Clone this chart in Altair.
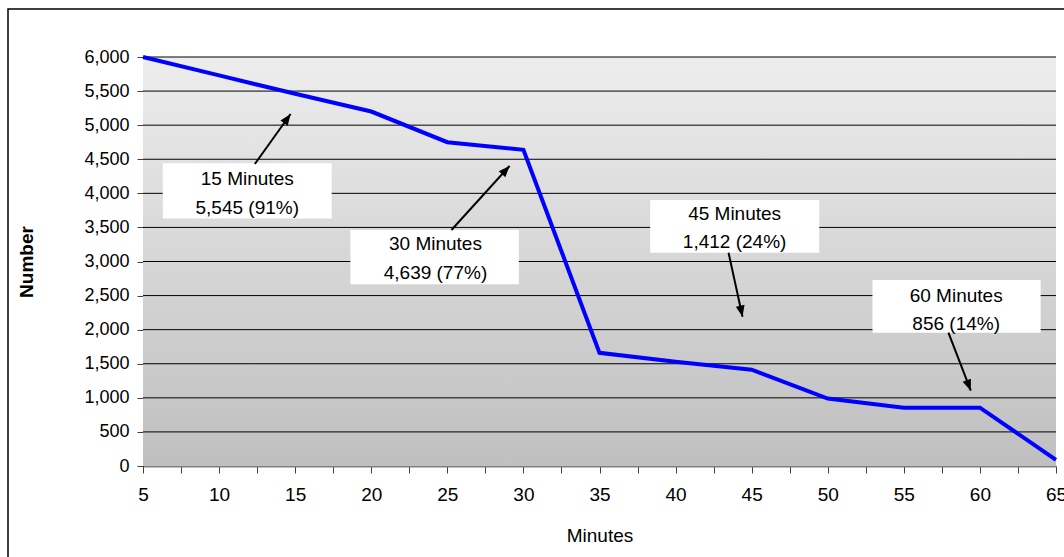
import math
import altair as alt
import pandas as pd

# ---- data ----
minutes = [5, 10, 15, 20, 25, 30, 35, 40, 45, 50, 55, 60, 65]
number = [6000, 5730, 5460, 5200, 4750, 4639, 1660, 1530, 1412, 990, 856, 856, 90]

y_ticks = list(range(0, 6001, 500))
grid_vals = list(range(500, 6001, 500))
x_ticks = [5 + 2.5 * i for i in range(25)]

ann_line1 = ["15 Minutes", "30 Minutes", "45 Minutes", "60 Minutes"]
ann_line2 = ["5,545 (91%)", "4,639 (77%)", "1,412 (24%)", "856 (14%)"]
box_x = [6.3, 18.63, 38.33, 52.94]
box_x2 = [17.4, 29.7, 49.44, 63.99]
box_y = [3630, 2666, 3129, 1955]
box_y2 = [4440, 3462, 3902, 2729]
text_x = [11.85, 24.22, 43.88, 58.44]
text_y1 = [4213, 3261, 3694, 2497]
text_y2 = [3780, 2827, 3279, 2088]
tail_x = [12.35, 25.27, 43.48, 57.93]
tail_y = [4430, 3462, 3129, 1955]
head_x = [14.70, 29.09, 44.40, 59.40]
head_y = [5164, 4401, 2190, 1105]

W, H = 913, 409
XMIN, XMAX, YMIN, YMAX = 5, 65, 0, 6000
FONT = "Liberation Sans"

# arrowhead rotation (screen space)
angles = []
for tx, ty, hx, hy in zip(tail_x, tail_y, head_x, head_y):
    dx = (hx - tx) * W / (XMAX - XMIN)
    dy = -(hy - ty) * H / (YMAX - YMIN)
    a = math.degrees(math.atan2(dx, -dy)) % 360
    angles.append(a)

line_df = pd.DataFrame({"Minutes": minutes, "Number": number})
grid_df = pd.DataFrame({"v": grid_vals})
ann_df = pd.DataFrame({
    "bx": box_x, "bx2": box_x2, "by": box_y, "by2": box_y2,
    "tx": text_x, "ty1": text_y1, "ty2": text_y2,
    "l1": ann_line1, "l2": ann_line2,
    "ax": tail_x, "ay": tail_y, "hx": head_x, "hy": head_y, "ang": angles,
})
one = pd.DataFrame({"d": [0]})

xs = alt.Scale(domain=[XMIN, XMAX], nice=False, zero=False)
ys = alt.Scale(domain=[YMIN, YMAX], nice=False)

AX = alt.Axis(values=x_ticks, labelExpr="datum.value % 5 === 0 ? datum.label : ''",
              title="Minutes", grid=False, domainColor="#808080", domainWidth=2,
              tickColor="#404040", tickSize=7, tickWidth=1,
              labelOverlap=False, labelFlush=False,
              labelFontSize=19, labelPadding=12, labelFont=FONT, labelColor="black",
              titleFont=FONT, titleFontSize=19, titleFontWeight="normal",
              titleColor="black", titleY=69, titleBaseline="middle")
AY = alt.Axis(values=y_ticks, format=",d", title="Number", grid=False,
              labelOverlap=False, labelFlush=False,
              domainColor="black", domainWidth=1, tickColor="#404040",
              tickSize=6, labelFontSize=18, labelPadding=8, labelFont=FONT,
              labelColor="black", titleFont=FONT, titleFontSize=19,
              titleFontWeight="bold", titleColor="black", titleX=-117,
              titleY=H / 2, titleBaseline="middle", titleAngle=270)


def X(f):
    return alt.X(f, scale=xs, axis=AX)


def Y(f):
    return alt.Y(f, scale=ys, axis=AY)


bg = alt.Chart(one).mark_rect(
    color=alt.Gradient(
        gradient="linear",
        stops=[alt.GradientStop(color="#ededed", offset=0),
               alt.GradientStop(color="#bfbfbf", offset=1)],
        x1=0, x2=0, y1=0, y2=1,
    )
).encode(x=alt.value(0), x2=alt.value(W), y=alt.value(0), y2=alt.value(H))

grid = alt.Chart(grid_df).mark_rule(color="#000000", strokeWidth=1).encode(y=Y("v:Q"))

line = alt.Chart(line_df).mark_line(color="#0000ff", strokeWidth=4).encode(
    x=X("Minutes:Q"), y=Y("Number:Q")
)

boxes = alt.Chart(ann_df).mark_rect(color="white").encode(
    x=X("bx:Q"), x2="bx2:Q", y=Y("by:Q"), y2="by2:Q"
)
t1 = alt.Chart(ann_df).mark_text(font=FONT, fontSize=19, color="black", baseline="middle").encode(
    x=X("tx:Q"), y=Y("ty1:Q"), text="l1:N"
)
t2 = alt.Chart(ann_df).mark_text(font=FONT, fontSize=19, color="black", baseline="middle").encode(
    x=X("tx:Q"), y=Y("ty2:Q"), text="l2:N"
)
shafts = alt.Chart(ann_df).mark_rule(color="black", strokeWidth=2).encode(
    x=X("ax:Q"), y=Y("ay:Q"), x2="hx:Q", y2="hy:Q"
)
heads = alt.Chart(ann_df).mark_point(
    shape="M0,0L0.4,1L-0.4,1Z", filled=True, color="black", opacity=1, size=500
).encode(x=X("hx:Q"), y=Y("hy:Q"), angle=alt.Angle("ang:Q", scale=None))

border = alt.Chart(one).mark_rect(fillOpacity=0, stroke="black", strokeWidth=1.5).encode(
    x=alt.value(-135), x2=alt.value(W + 40), y=alt.value(-48), y2=alt.value(H + 200)
)

chart = alt.layer(bg, grid, line, boxes, t1, t2, shafts, heads, border).properties(
    width=W, height=H, autosize="none",
    padding={"left": 143, "top": 57, "right": 8, "bottom": 91},
    background="white",
).configure_view(stroke=None)

chart.save("out.html", embed_options={"renderer": "svg", "actions": False})
